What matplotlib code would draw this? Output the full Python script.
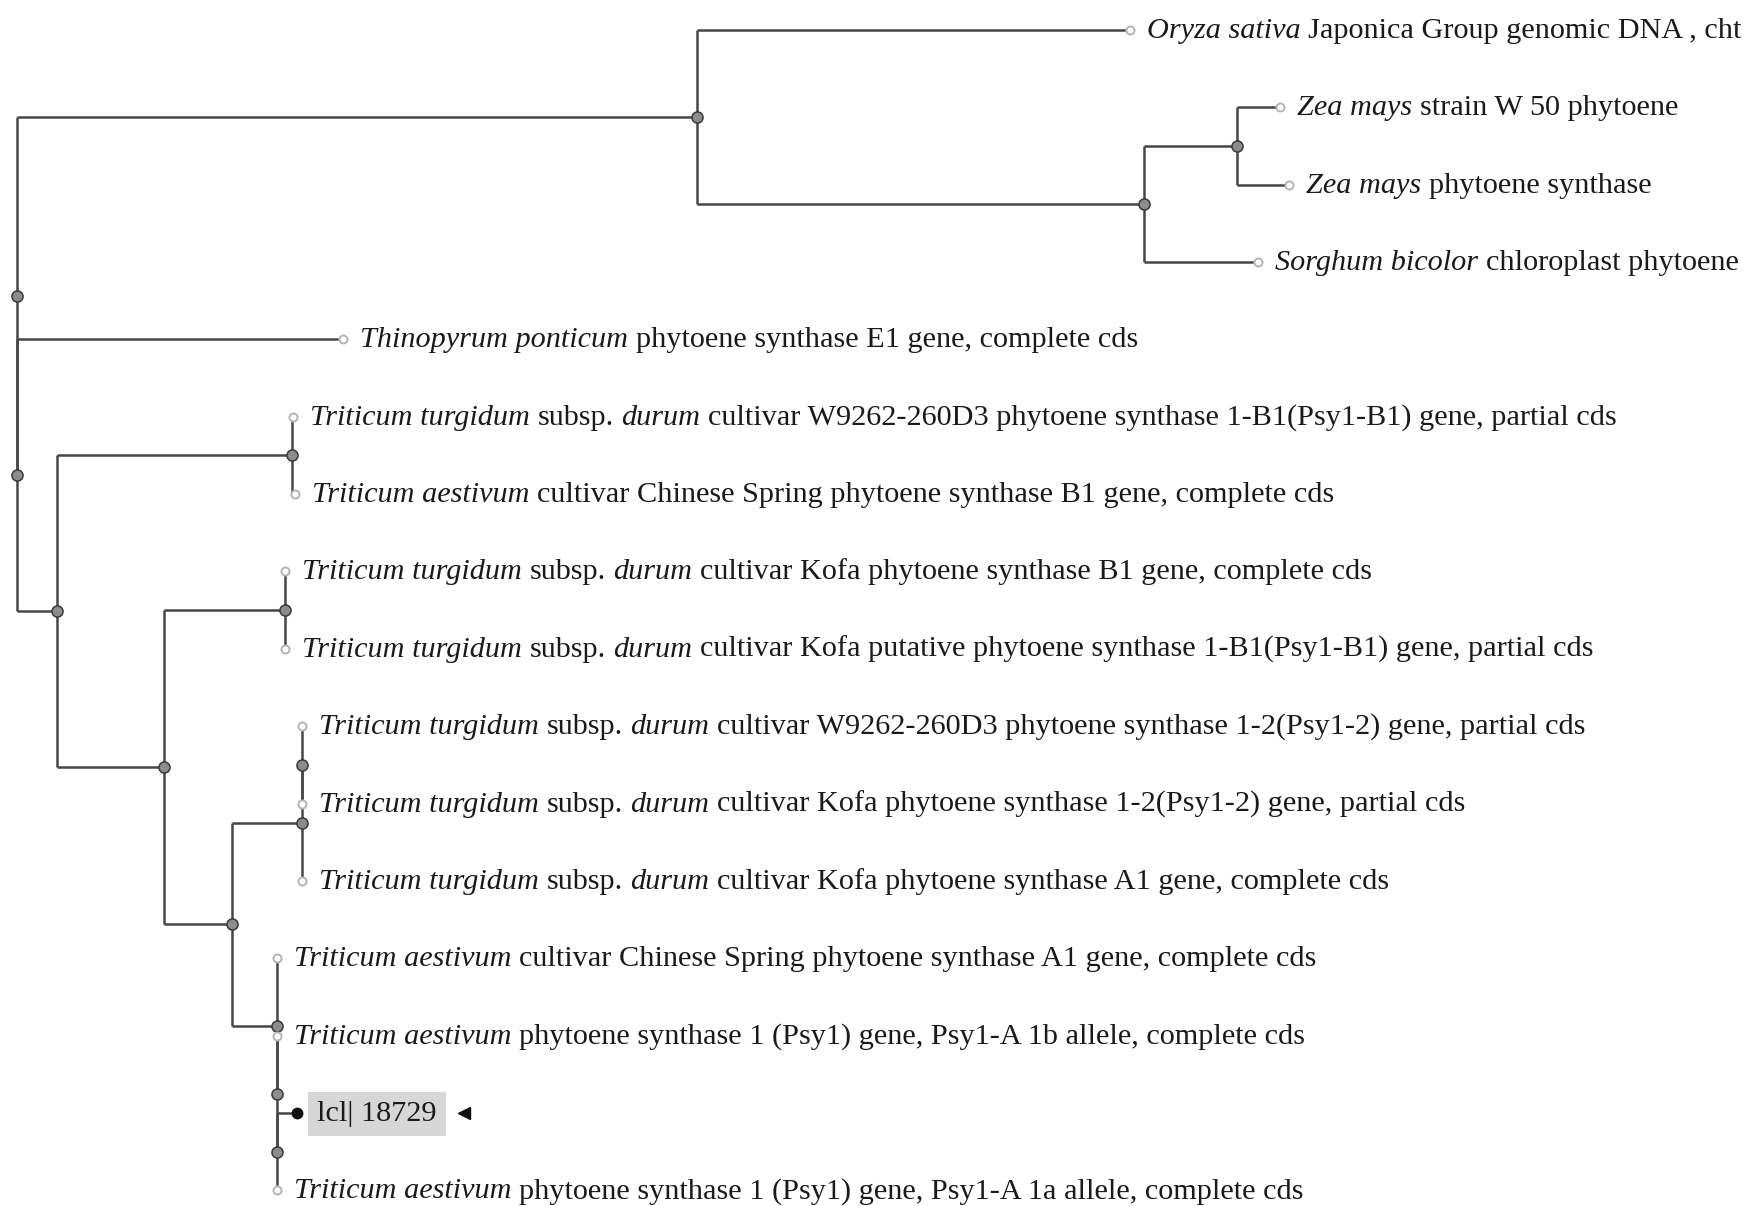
import matplotlib
matplotlib.use("Agg")
import matplotlib.pyplot as plt
import matplotlib.transforms as mtransforms

# ---------------- data: tree topology and branch lengths ----------------
node_names = [
    "root", "oryza_clade", "Oryza", "zs", "zea", "ZeaW50", "ZeaPS", "Sorghum",
    "x", "Thinopyrum", "wheat", "a", "TT_W9262_B1", "TA_CS_B1",
    "b", "c", "TT_Kofa_B1", "TT_Kofa_put", "d", "e", "e2",
    "TT_W9262_12", "TT_Kofa_12", "TT_Kofa_A1", "f", "TA_CS_A1", "g1",
    "TA_1b", "g2", "lcl", "TA_1a",
]
node_parent = [
    None, "root", "oryza_clade", "oryza_clade", "zs", "zea", "zea", "zs",
    "root", "x", "x", "wheat", "a", "a",
    "wheat", "b", "c", "c", "b", "d", "e",
    "e2", "e2", "e", "d", "f", "f",
    "g1", "g1", "g2", "g2",
]
branch_len = [
    0, 680, 433, 447, 93, 43, 52, 114,
    0, 326, 40, 235, 1, 3,
    107, 121, 0, 0, 68, 70, 0,
    0, 0, 0, 45, 0, 0,
    0, 0, 20, 0,
]

# label pieces: (text, italic)
leaf_labels = {
    "Oryza": [("Oryza sativa", True), ("Japonica Group genomic DNA , cht", False)],
    "ZeaW50": [("Zea mays", True), ("strain W 50 phytoene", False)],
    "ZeaPS": [("Zea mays", True), ("phytoene synthase", False)],
    "Sorghum": [("Sorghum bicolor", True), ("chloroplast phytoene", False)],
    "Thinopyrum": [("Thinopyrum ponticum", True), ("phytoene synthase E1 gene, complete cds", False)],
    "TT_W9262_B1": [("Triticum turgidum", True), ("subsp.", False), ("durum", True),
                    ("cultivar W9262-260D3 phytoene synthase 1-B1(Psy1-B1) gene, partial cds", False)],
    "TA_CS_B1": [("Triticum aestivum", True),
                 ("cultivar Chinese Spring phytoene synthase B1 gene, complete cds", False)],
    "TT_Kofa_B1": [("Triticum turgidum", True), ("subsp.", False), ("durum", True),
                   ("cultivar Kofa phytoene synthase B1 gene, complete cds", False)],
    "TT_Kofa_put": [("Triticum turgidum", True), ("subsp.", False), ("durum", True),
                    ("cultivar Kofa putative phytoene synthase 1-B1(Psy1-B1) gene, partial cds", False)],
    "TT_W9262_12": [("Triticum turgidum", True), ("subsp.", False), ("durum", True),
                    ("cultivar W9262-260D3 phytoene synthase 1-2(Psy1-2) gene, partial cds", False)],
    "TT_Kofa_12": [("Triticum turgidum", True), ("subsp.", False), ("durum", True),
                   ("cultivar Kofa phytoene synthase 1-2(Psy1-2) gene, partial cds", False)],
    "TT_Kofa_A1": [("Triticum turgidum", True), ("subsp.", False), ("durum", True),
                   ("cultivar Kofa phytoene synthase A1 gene, complete cds", False)],
    "TA_CS_A1": [("Triticum aestivum", True),
                 ("cultivar Chinese Spring phytoene synthase A1 gene, complete cds", False)],
    "TA_1b": [("Triticum aestivum", True),
              ("phytoene synthase 1 (Psy1) gene, Psy1-A 1b allele, complete cds", False)],
    "lcl": [("lcl| 18729", False)],
    "TA_1a": [("Triticum aestivum", True),
              ("phytoene synthase 1 (Psy1) gene, Psy1-A 1a allele, complete cds", False)],
}
query_leaf = "lcl"

# ---------------- layout ----------------
W, H = 1745, 1206
ROOT_X = 17
LEAF_Y0 = 30
LEAF_DY = 77.35
FS = 21.8
FAM = ["Liberation Serif", "DejaVu Serif"]
LINE_C = "#474747"
TEXT_C = "#1a1a1a"

children = {n: [] for n in node_names}
blen = dict(zip(node_names, branch_len))
for n, p in zip(node_names, node_parent):
    if p is not None:
        children[p].append(n)

pos = {}
leaf_counter = [0]


def layout(n, x_parent):
    x = x_parent + blen[n]
    if not children[n]:
        y = LEAF_Y0 + leaf_counter[0] * LEAF_DY
        leaf_counter[0] += 1
    else:
        ys = [layout(c, x) for c in children[n]]
        y = (min(ys) + max(ys)) / 2
    pos[n] = (x, y)
    return y


layout("root", ROOT_X)

fig = plt.figure(figsize=(W / 100, H / 100), dpi=100)
fig.patch.set_facecolor("white")
ax = fig.add_axes([0, 0, 1, 1])
ax.set_xlim(0, W)
ax.set_ylim(H, 0)
ax.axis("off")

# branches
for n in node_names:
    kids = children[n]
    if not kids:
        continue
    x, y = pos[n]
    ys = [pos[c][1] for c in kids]
    ax.plot([x, x], [min(ys), max(ys)], color=LINE_C, lw=1.8, zorder=1,
            solid_capstyle="butt")
    for c in kids:
        cx, cy = pos[c]
        if cx > x:
            ax.plot([x, cx], [cy, cy], color=LINE_C, lw=1.8, zorder=1,
                    solid_capstyle="butt")

# node markers
for n in node_names:
    x, y = pos[n]
    if children[n]:
        ax.plot(x, y, "o", ms=8, mfc="#8c8c8c", mec="#3a3a3a", mew=1.1, zorder=3)
    elif n == query_leaf:
        ax.plot(x, y, "o", ms=7.5, mfc="#111111", mec="#111111", zorder=3)
    else:
        ax.plot(x, y, "o", ms=5.8, mfc="white", mec="#b4b4b4", mew=1.4, zorder=3)

# labels
fig.canvas.draw()
renderer = fig.canvas.get_renderer()
em_px = FS * 100 / 72
space_w = em_px * 0.25

for n, pieces in leaf_labels.items():
    x, y = pos[n]
    x0 = x + 17
    yb = y + 8
    dx = 0.0
    for s, it in pieces:
        tr = mtransforms.offset_copy(ax.transData, fig=fig, x=dx, y=0,
                                     units="dots")
        kw = {}
        if n == query_leaf:
            kw["bbox"] = dict(facecolor="#d7d7d7", edgecolor="none",
                              boxstyle="square,pad=0.3")
            x0 = x + 20
        t = ax.text(x0, yb, s, transform=tr, fontsize=FS, family=FAM,
                    style="italic" if it else "normal", va="baseline",
                    ha="left", color=TEXT_C, zorder=4, **kw)
        dx += t.get_window_extent(renderer).width + space_w
    if n == query_leaf:
        tr = mtransforms.offset_copy(ax.transData, fig=fig, x=dx + 20, y=0,
                                     units="dots")
        ax.plot([x0], [y], marker="<", ms=8, color="#111111", transform=tr,
                zorder=4)

fig.savefig("out.png", dpi=100, facecolor="white")
